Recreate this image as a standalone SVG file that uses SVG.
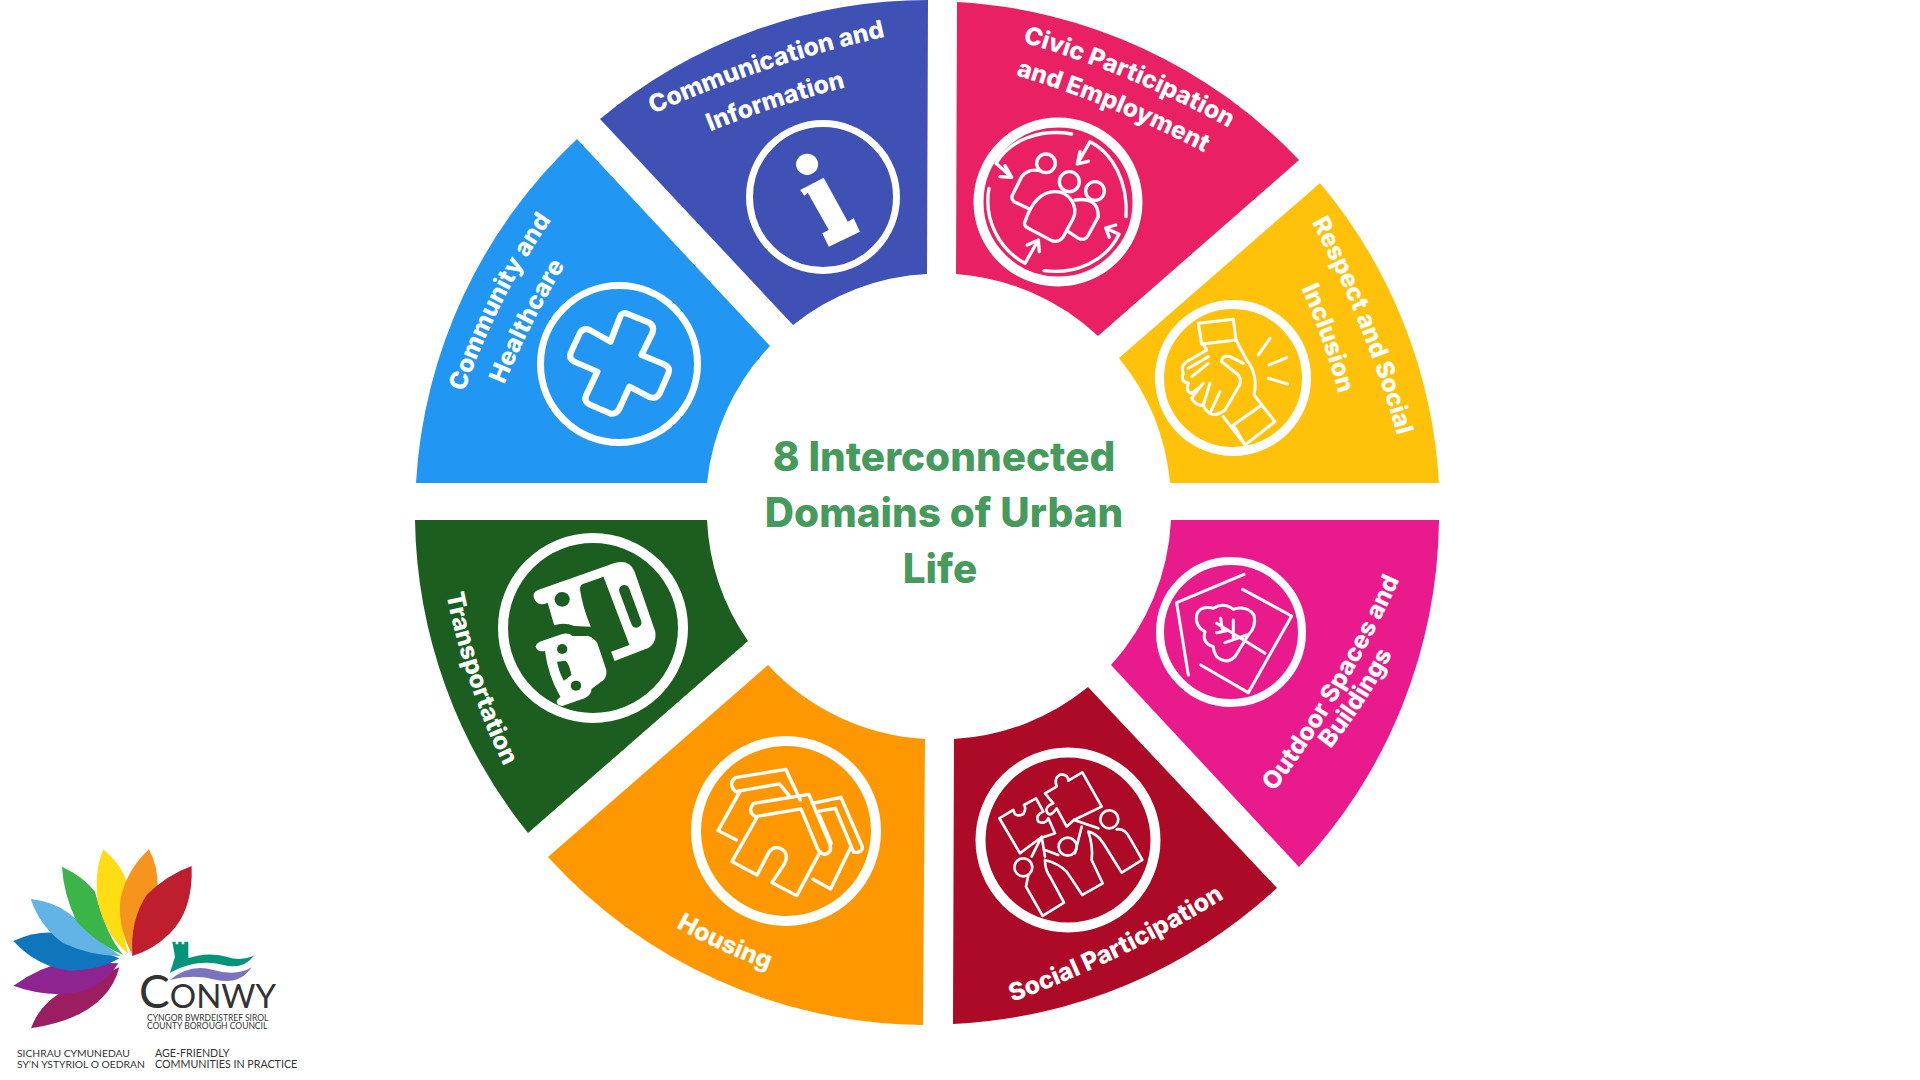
<svg xmlns="http://www.w3.org/2000/svg" width="1920" height="1080" viewBox="0 0 1920 1080">
<style>
.lb{font-family:"Inter","Liberation Sans",sans-serif;font-weight:800;font-size:24.6px;fill:#fff;text-anchor:middle}
.tt{font-family:"Inter","Liberation Sans",sans-serif;font-weight:800;font-size:40.5px;fill:#469A5C;text-anchor:middle}
.ring{fill:none;stroke:#fff}
.ic{fill:none;stroke:#fff;stroke-linecap:round;stroke-linejoin:round}
.sm{font-family:"Lato","Liberation Sans",sans-serif;fill:#333}
</style>
<defs>
<path id="p1" d="M626 126L653 114Q770 62 885 37L914 31"/>
<path id="p2" d="M709 132Q776 105 847 87"/>
<path id="p3" d="M996 35L1025 43Q1131 74 1227 127L1253 141"/>
<path id="p4" d="M986 66L1015 75Q1114 105 1205 153L1232 167"/>
<path id="p5" d="M1298 196L1312 223Q1366 325 1397 435L1405 464"/>
<path id="p6" d="M1302 290Q1324 340 1338 392"/>
<path id="p7" d="M455 418L465 390Q496 301 550 222L567 197"/>
<path id="p8" d="M505 383Q530 323 564 267"/>
<path id="p9" d="M440 564L446 593Q464 683 504 767L517 794"/>
<path id="p10" d="M675 927Q720 952 769 970"/>
<path id="p11" d="M982 1013L1010 1003Q1124 961 1227 897L1252 881"/>
<path id="p12" d="M1260 811L1278 787Q1348 692 1397 585L1409 558"/>
<path id="p13" d="M1330 750Q1366 704 1393 653"/>
</defs>
<rect width="1920" height="1080" fill="#fff"/>

<g id="civic">
<path fill="#E92063" d="M957 2A512 512 0 0 1 1299 160L1098 336A232 232 0 0 0 956 274Z"/>
<text class="lb"><textPath href="#p3" startOffset="50%">Civic Participation</textPath></text>
<text class="lb"><textPath href="#p4" startOffset="50%">and Employment</textPath></text>
<circle class="ring" cx="1058" cy="202" r="79.5" stroke-width="10"/>
<g class="ic" transform="translate(950 0) scale(.3333)" stroke-width="10">
<path d="M365 402C270 385 180 420 138 490L185 532M150 530L185 532L165 497"/>
<path d="M528 650C535 550 490 460 420 425L382 492L415 484M382 492L390 455"/>
<path d="M282 812C380 825 470 780 507 703L467 684L497 675M467 684L478 712"/>
<path d="M117 565C100 660 150 750 225 790L265 720L232 735M265 720L268 755"/>
<circle cx="288" cy="490" r="28"/><circle cx="358" cy="545" r="30"/><circle cx="435" cy="573" r="28"/>
<path d="M225 665C240 620 265 575 315 575C360 575 385 620 370 655L340 710Q325 730 305 722L235 685Q218 675 225 665Z"/>
<path d="M240 628L192 605Q180 595 190 580L215 530Q235 505 270 512M375 600Q445 590 445 650L415 705Q405 725 385 715L355 695"/>
</g>
</g>

<g id="respect">
<path fill="#FFC10A" d="M1320 183A512 512 0 0 1 1439 483H1170A232 232 0 0 0 1119 358Z"/>
<text class="lb"><textPath href="#p5" startOffset="50%">Respect and Social</textPath></text>
<text class="lb"><textPath href="#p6" startOffset="50%">Inclusion</textPath></text>
<circle class="ring" cx="1233" cy="378" r="73.5" stroke-width="9"/>
<g class="ic" transform="translate(950 0) scale(.3333)" stroke-width="9">
<path d="M745 970L850 958L858 1020L755 1032Z"/>
<path d="M858 1020L890 1080C915 1110 920 1150 912 1185L935 1215M760 1032L770 1050"/>
<path d="M850 1275L935 1215L975 1265L885 1335ZM820 1250L885 1335"/>
<path d="M815 1085Q815 1065 840 1070L880 1090M815 1085L865 1125Q880 1145 860 1170L825 1230Q800 1250 780 1240Q765 1230 760 1215Q740 1220 725 1195L745 1165"/>
<path d="M770 1050L710 1085Q690 1100 700 1120Q690 1145 715 1150Q705 1175 725 1180L745 1165M775 1070L715 1105M775 1090L725 1130M760 1150L735 1180M780 1150L760 1215M810 1175L780 1240"/>
<path d="M925 1065L960 1015M957 1095L1010 1073M955 1135L1012 1152"/>
</g>
</g>

<g id="communication">
<path fill="#3F51B5" d="M928 0A512 512 0 0 0 600 119L793 325A232 232 0 0 1 927 274Z"/>
<text class="lb"><textPath href="#p1" startOffset="50%">Communication and</textPath></text>
<text class="lb"><textPath href="#p2" startOffset="50%">Information</textPath></text>
<circle class="ring" cx="823" cy="197" r="73.5" stroke-width="7"/>
<g transform="translate(400 0) scale(.345 .3333)" fill="#fff">
<circle cx="1180" cy="493" r="32"/>
<path d="M1160 570L1228 533L1298 665L1315 655L1333 695L1243 740L1224 700L1243 690L1182 578L1172 587Z"/>
</g>
</g>

<g id="community">
<path fill="#2196F3" d="M577 139A512 512 0 0 0 416 483H707A232 232 0 0 1 770 346Z"/>
<text class="lb"><textPath href="#p7" startOffset="50%">Community and</textPath></text>
<text class="lb"><textPath href="#p8" startOffset="50%">Healthcare</textPath></text>
<circle class="ring" cx="619" cy="364" r="78.5" stroke-width="7"/>
<path class="ic" transform="translate(400 0) scale(.345 .3333)" stroke-width="18" d="M640 945Q650 935 662 943L722 968Q738 978 732 998L700 1065L765 1093Q785 1103 778 1120L752 1182Q742 1198 725 1192L665 1160L635 1228Q625 1245 608 1240L548 1213Q532 1203 540 1185L572 1115L505 1085Q488 1075 495 1058L522 998Q532 982 550 990L610 1025Z"/>
</g>

<g id="transportation">
<path fill="#1B5E20" d="M415 520H707A232 232 0 0 0 748 641L528 833A512 512 0 0 1 415 520Z"/>
<text class="lb"><textPath href="#p9" startOffset="50%">Transportation</textPath></text>
<circle class="ring" cx="593" cy="628" r="90" stroke-width="10"/>
<g transform="translate(400 510) scale(.345 .3333)">
<path fill="#fff" d="M400 240L620 160Q665 145 680 185L740 365Q745 405 710 418L622 453L612 425L665 405L590 200L530 222Q520 228 522 240Q530 295 553 350L505 348Q475 335 447 346L428 278Q405 290 392 272Q378 250 400 240Z"/>
<circle cx="470" cy="268" r="22" fill="#1B5E20"/>
<path d="M650 240L685 338" stroke="#1B5E20" stroke-width="30" stroke-linecap="round"/>
<path fill="#fff" d="M405 395L470 372Q490 368 500 378L545 378Q565 385 572 400L598 480Q600 500 590 510L555 537Q555 555 535 565L470 588Q450 585 455 570L465 560Q430 500 420 422Q400 428 393 410Q395 400 405 395Z"/>
<circle cx="470" cy="417" r="15" fill="#1B5E20"/><circle cx="510" cy="527" r="15" fill="#1B5E20"/>
<path fill="#1B5E20" d="M455 455L480 452Q490 460 497 495L475 512Q462 490 455 455Z"/>
</g>
</g>

<g id="housing">
<path fill="#FF9800" d="M768 665A232 232 0 0 0 925 739L923 1025A512 512 0 0 1 548 857Z"/>
<text class="lb"><textPath href="#p10" startOffset="50%">Housing</textPath></text>
<circle class="ring" cx="786" cy="831" r="90" stroke-width="10"/>
<g class="ic" transform="translate(400 510) scale(.345 .3333)" stroke-width="10">
<path d="M972 803L1118 778L1160 870M972 803Q950 820 972 845L1100 822L1130 860M985 845L922 962L975 990"/>
<path d="M1025 880L1185 853L1245 1000Q1255 1030 1230 1033Q1215 1030 1210 1015L1162 897L1030 920Q1005 905 1025 880Z"/>
<path d="M1035 922L962 1055L1035 1095L1070 1025Q1090 1000 1115 1025Q1125 1040 1115 1060L1078 1118L1150 1157L1218 1025"/>
<path d="M1195 880L1278 862L1340 1010Q1340 1030 1315 1027L1262 895L1207 905M1215 915L1250 1000M1305 1015L1248 1137L1197 1108"/>
</g>
</g>

<g id="social">
<path fill="#AD0A27" d="M954 739A232 232 0 0 0 1088 687L1277 888A512 512 0 0 1 953 1024Z"/>
<text class="lb"><textPath href="#p11" startOffset="50%">Social Participation</textPath></text>
<circle class="ring" cx="1068" cy="840" r="87.5" stroke-width="10"/>
<g class="ic" transform="translate(950 510) scale(.3333)" stroke-width="8">
<path d="M148 925L190 900Q195 925 220 912Q230 895 222 885L258 865L280 905Q255 915 265 935Q285 945 295 925L315 970L270 985L210 1030Z"/>
<path d="M285 850L320 830Q310 800 335 793Q355 795 355 812L397 787L455 890L372 930L350 950L320 895Q300 925 290 905Q285 890 310 880Z"/>
<circle cx="478" cy="928" r="27"/><circle cx="353" cy="1010" r="27"/><circle cx="220" cy="1072" r="27"/>
<path d="M372 930L445 955M500 958Q525 955 540 985L577 1050L515 1088L460 1000Q440 970 415 965Q430 1010 425 1050L458 1120L397 1155L350 1085Q325 1060 285 1050Q285 1080 300 1100L342 1178L278 1218L228 1130L235 1095"/>
<path d="M245 1040L275 980L285 1040M285 1020L325 1035M395 950Q385 990 375 1030"/>
</g>
</g>

<g id="outdoor">
<path fill="#E91A8B" d="M1171 520H1439A512 512 0 0 1 1299 867L1111 665A232 232 0 0 0 1171 520Z"/>
<text class="lb"><textPath href="#p12" startOffset="50%">Outdoor Spaces and</textPath></text>
<text class="lb"><textPath href="#p13" startOffset="50%">Buildings</textPath></text>
<circle class="ring" cx="1231" cy="632" r="71" stroke-width="8"/>
<g class="ic" transform="translate(950 510) scale(.3333)" stroke-width="9">
<path d="M882 193L680 278L715 495M878 238L1025 318L895 548L752 465"/>
<path d="M790 410Q755 400 765 365Q735 350 740 315Q750 285 790 295Q820 275 850 298Q890 285 912 315Q920 350 895 375L855 440Q830 465 800 440Q790 425 790 410Z"/>
<path d="M945 430L800 340M812 325L818 362M850 330L850 385M800 368L830 362M825 398L890 375"/>
</g>
</g>

<g id="title">
<text class="tt" x="944" y="471">8 Interconnected</text>
<text class="tt" x="944" y="527">Domains of Urban</text>
<text class="tt" x="940" y="583">Life</text>
</g>

<g id="logo">
<g transform="translate(0 830) scale(.3333)">
<path fill="#9B1E63" d="M93 595Q125 505 230 465Q300 440 358 412Q320 560 93 595Z"/>
<path fill="#8E2490" d="M40 467Q120 410 200 395L355 400Q300 490 180 493Q100 490 40 467Z"/>
<path fill="#0F75BD" d="M40 333Q100 305 160 308Q270 350 358 385Q300 420 210 422Q110 410 40 333Z"/>
<path fill="#62B4E6" d="M92 207Q170 215 225 265Q290 330 362 378Q280 380 190 340Q120 290 92 207Z"/>
<path fill="#3BB44A" d="M186 110Q250 140 285 185Q320 320 370 375Q290 340 230 275Q190 190 186 110Z"/>
<path fill="#FFDD15" d="M310 58Q370 110 380 160Q355 280 385 372Q320 320 295 220Q280 130 310 58Z"/>
<path fill="#F7941E" d="M447 58Q475 110 473 175Q400 270 395 372Q350 280 362 205Q380 120 447 58Z"/>
<path fill="#BE1E2D" d="M575 108Q580 240 510 310Q460 360 397 378Q390 270 440 195Q500 135 575 108Z"/>
<path fill="#00957A" d="M517 335H527V343H535V335H545V343H553V335H565V385Q620 365 680 380Q720 395 762 377Q730 420 670 405Q590 385 510 428L525 380Z"/>
<path fill="#7B73BC" d="M510 450Q570 400 640 420Q710 440 755 412Q720 465 650 450Q580 430 510 450Z"/>
</g>
<text class="sm" x="139" y="1008" font-size="46" fill="#222">C<tspan font-size="33">ONWY</tspan></text>
<text class="sm" x="147" y="1021" font-size="8.5">CYNGOR BWRDEISTREF SIROL</text>
<text class="sm" x="147" y="1029" font-size="8.5">COUNTY BOROUGH COUNCIL</text>
<text class="sm" x="17" y="1057" font-size="10.3">SICHRAU CYMUNEDAU</text>
<text class="sm" x="17" y="1068" font-size="10.3">SY’N YSTYRIOL O OEDRAN</text>
<text class="sm" x="155" y="1057" font-size="10.7">AGE-FRIENDLY</text>
<text class="sm" x="155" y="1068" font-size="10.7">COMMUNITIES IN PRACTICE</text>
</g>
</svg>
